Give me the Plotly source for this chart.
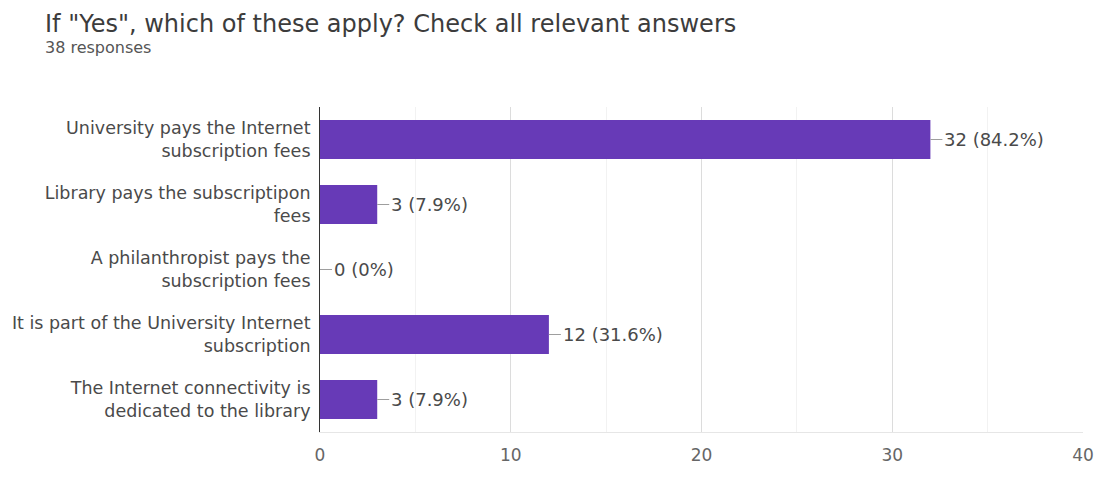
import plotly.graph_objects as go

title = 'If "Yes", which of these apply? Check all relevant answers'
subtitle = "38 responses"
categories = [
    "University pays the Internet<br>subscription fees",
    "Library pays the subscriptipon<br>fees",
    "A philanthropist pays the<br>subscription fees",
    "It is part of the University Internet<br>subscription",
    "The Internet connectivity is<br>dedicated to the library",
]
counts = [32, 3, 0, 12, 3]
percents = ["84.2%", "7.9%", "0%", "31.6%", "7.9%"]
x_ticks = [0, 10, 20, 30, 40]

W, H = 1106, 477
L, R, T, B = 312, 14, 107, 36
PW, PH = W - L - R, H - T - B
FONT = "DejaVu Sans, Liberation Sans, Arial"

fig = go.Figure()
fig.add_trace(go.Bar(
    x=counts, y=categories, orientation="h",
    marker=dict(color="#673ab7", line=dict(width=0)),
    hoverinfo="skip",
))

annotations = []
for c, cat, p in zip(counts, categories, percents):
    annotations.append(dict(
        x=c, y=cat, xref="x", yref="y",
        text=f"{c} ({p})", showarrow=True, arrowhead=0, arrowwidth=1,
        arrowcolor="#9e9e9e", ax=12, ay=0, xanchor="left",
        font=dict(family=FONT, size=18, color="#4a4a4a"),
    ))
annotations.append(dict(
    x=(29 - L) / PW, y=1 + (T - 22) / PH, xref="paper", yref="paper",
    xanchor="left", yanchor="middle", text=title, showarrow=False,
    font=dict(family=FONT, size=24, color="#3c3c3c"),
))
annotations.append(dict(
    x=(29 - L) / PW, y=1 + (T - 46) / PH, xref="paper", yref="paper",
    xanchor="left", yanchor="middle", text=subtitle, showarrow=False,
    font=dict(family=FONT, size=16, color="#555555"),
))

fig.update_layout(
    width=W, height=H,
    margin=dict(l=L, r=R, t=T, b=B),
    paper_bgcolor="white", plot_bgcolor="white",
    bargap=0.4, showlegend=False,
    annotations=annotations,
    xaxis=dict(
        range=[0, 40], tickvals=x_ticks, ticktext=[str(t) for t in x_ticks],
        showgrid=True, gridcolor="#dcdcdc", gridwidth=1,
        minor=dict(dtick=5, showgrid=True, gridcolor="#f2f2f2", gridwidth=1),
        zeroline=False, showline=True, linecolor="#e6e6e6", linewidth=1,
        tickfont=dict(family=FONT, size=17, color="#666666"),
        ticks="", ticklabelstandoff=8,
    ),
    yaxis=dict(
        autorange="reversed", showgrid=False, zeroline=False,
        showline=True, linecolor="#333333", linewidth=1,
        tickfont=dict(family=FONT, size=17.5, color="#4a4a4a"),
        ticks="", ticklabelstandoff=5,
    ),
)
fig.write_html(
    "out.html",
    config={"displayModeBar": False},
    post_script="document.body.style.margin='0';document.body.style.overflow='hidden';",
)
